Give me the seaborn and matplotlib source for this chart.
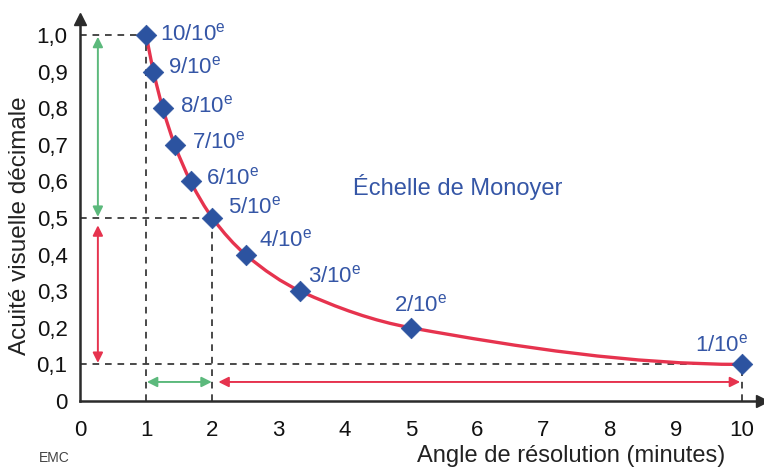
# Échelle de Monoyer : acuité visuelle décimale vs angle de résolution
import numpy as np
import matplotlib
matplotlib.use("Agg")
import matplotlib.pyplot as plt
from matplotlib.path import Path
from matplotlib.patches import PathPatch
import pandas as pd
import seaborn as sns

# ------------------------------------------
# Data
# ------------------------------------------
angle = [1.0, 1.11, 1.25, 1.43, 1.67, 2.0, 2.5, 3.33, 5.0, 10.0]
acuity = [1.0, 0.9, 0.8, 0.7, 0.6, 0.5, 0.4, 0.3, 0.2, 0.1]
point_labels = ["10/10", "9/10", "8/10", "7/10", "6/10",
                "5/10", "4/10", "3/10", "2/10", "1/10"]

x_ticks = [0, 1, 2, 3, 4, 5, 6, 7, 8, 9, 10]
y_ticks = [0, 0.1, 0.2, 0.3, 0.4, 0.5, 0.6, 0.7, 0.8, 0.9, 1.0]
y_ticklabels = ["0", "0,1", "0,2", "0,3", "0,4", "0,5",
                "0,6", "0,7", "0,8", "0,9", "1,0"]

# dashed reference guides (angle, acuity)
guide_angle = [1, 2, 10]
guide_acuity = [1.0, 0.5, 0.1]

# double arrows: (start, end) spans
green_v = [0.995, 0.503]
red_v = [0.48, 0.104]
green_h = [1.01, 1.99]
red_h = [2.09, 9.97]
arrow_x = 0.27
arrow_y = 0.052

df = pd.DataFrame({"angle": angle, "acuity": acuity, "label": point_labels})

# ------------------------------------------
# Style
# ------------------------------------------
sns.set_theme(style="white")
plt.rcParams["font.family"] = ["Liberation Sans", "DejaVu Sans"]
plt.rcParams["mathtext.fontset"] = "custom"
plt.rcParams["mathtext.rm"] = "Liberation Sans"

BLUE = "#2c53a0"
TXT_BLUE = "#3556a6"
RED = "#e6334e"
GREEN = "#5cb97c"
DARK = "#2b2b2b"

fig = plt.figure(figsize=(7.64, 4.68), dpi=100)
ax = fig.add_axes([80 / 764, 67 / 468, 682 / 764, 382.5 / 468])
ax.set_xlim(0, 10.3)
ax.set_ylim(0, 1.045)

# ------------------------------------------
# Dashed guides
# ------------------------------------------
for a, v in zip(guide_angle, guide_acuity):
    ax.plot([0, a], [v, v], color=DARK, lw=1.2, ls=(0, (4, 3.5)), zorder=1)
    ax.plot([a, a], [0, v], color=DARK, lw=1.2, ls=(0, (4, 3.5)), zorder=1)

# ------------------------------------------
# Smooth curve through the points (monotone cubic Bezier)
# ------------------------------------------
xs = np.asarray(angle)
ys = np.asarray(acuity)
h = np.diff(xs)
d = np.diff(ys) / h
m = np.zeros_like(ys)
for k in range(1, len(xs) - 1):
    if d[k - 1] * d[k] > 0:
        w1 = 2 * h[k] + h[k - 1]
        w2 = h[k] + 2 * h[k - 1]
        m[k] = (w1 + w2) / (w1 / d[k - 1] + w2 / d[k])


def end_slope(h0, h1, d0, d1):
    s = ((2 * h0 + h1) * d0 - h0 * d1) / (h0 + h1)
    if np.sign(s) != np.sign(d0):
        s = 0.0
    return s


m[0] = end_slope(h[0], h[1], d[0], d[1])
m[-1] = end_slope(h[-1], h[-2], d[-1], d[-2])

verts = [(xs[0], ys[0])]
codes = [Path.MOVETO]
for k in range(len(xs) - 1):
    verts += [(xs[k] + h[k] / 3, ys[k] + m[k] * h[k] / 3),
              (xs[k + 1] - h[k] / 3, ys[k + 1] - m[k + 1] * h[k] / 3),
              (xs[k + 1], ys[k + 1])]
    codes += [Path.CURVE4] * 3
ax.add_patch(PathPatch(Path(verts, codes), facecolor="none",
                       edgecolor=RED, lw=2.4, zorder=3, capstyle="round"))

# ------------------------------------------
# Points
# ------------------------------------------
sns.scatterplot(data=df, x="angle", y="acuity", marker="D", s=110,
                color=BLUE, edgecolor=BLUE, linewidth=0.5, zorder=4,
                ax=ax, clip_on=False, legend=False)

label_offsets = [(14, -5), (15, -2), (17, -4), (17, -4), (15, -3),
                 (16, 5), (13, 8), (8, 9), (-17, 16), (-47, 13)]
for (a, v, t), (dx, dy) in zip(zip(angle, acuity, point_labels), label_offsets):
    ax.annotate(t + r"$^{\mathregular{e}}$", (a, v), xytext=(dx, dy),
                textcoords="offset pixels", ha="left", va="baseline",
                fontsize=16, color=TXT_BLUE, zorder=5)

ax.text(5.7, 0.585, "Échelle de Monoyer", fontsize=17,
        color=TXT_BLUE, ha="center", va="center")

# ------------------------------------------
# Double arrows
# ------------------------------------------
def double_arrow(p0, p1, color):
    ax.annotate("", xy=p1, xytext=p0,
                arrowprops=dict(arrowstyle="<|-|>", color=color, lw=1.4,
                                mutation_scale=15, shrinkA=0, shrinkB=0),
                zorder=2)


double_arrow((arrow_x, green_v[0]), (arrow_x, green_v[1]), GREEN)
double_arrow((arrow_x, red_v[0]), (arrow_x, red_v[1]), RED)
double_arrow((green_h[0], arrow_y), (green_h[1], arrow_y), GREEN)
double_arrow((red_h[0], arrow_y), (red_h[1], arrow_y), RED)

# ------------------------------------------
# Axes with arrow heads
# ------------------------------------------
for side in ["top", "right"]:
    ax.spines[side].set_visible(False)
for side in ["left", "bottom"]:
    ax.spines[side].set_color(DARK)
    ax.spines[side].set_linewidth(1.8)
ax.plot(1, 0, ">", color=DARK, ms=9, transform=ax.transAxes, clip_on=False)
ax.plot(0, 1, "^", color=DARK, ms=9, transform=ax.transAxes, clip_on=False)

ax.set_xticks(x_ticks)
ax.set_xticklabels([str(t) for t in x_ticks])
ax.set_yticks(y_ticks)
ax.set_yticklabels(y_ticklabels)
ax.tick_params(axis="x", direction="out", length=10, width=1.6, color=DARK,
               pad=4, labelsize=16, labelcolor="#111")
ax.tick_params(axis="y", length=0, pad=9, labelsize=16, labelcolor="#111")
ax.xaxis.get_major_ticks()[0].tick1line.set_visible(False)
ax.set_xlabel("")
ax.set_ylabel("")

fig.text(20 / 764, 1 - 226 / 468, "Acuité visuelle décimale", rotation=90,
         ha="center", va="center", fontsize=17.5, color="#222")
fig.text(571 / 764, 1 - 456 / 468, "Angle de résolution (minutes)",
         ha="center", va="center", fontsize=17, color="#222")
fig.text(54 / 764, 1 - 458 / 468, "EMC", ha="center", va="center",
         fontsize=10, color="#444")

fig.savefig("out.png", dpi=100)
